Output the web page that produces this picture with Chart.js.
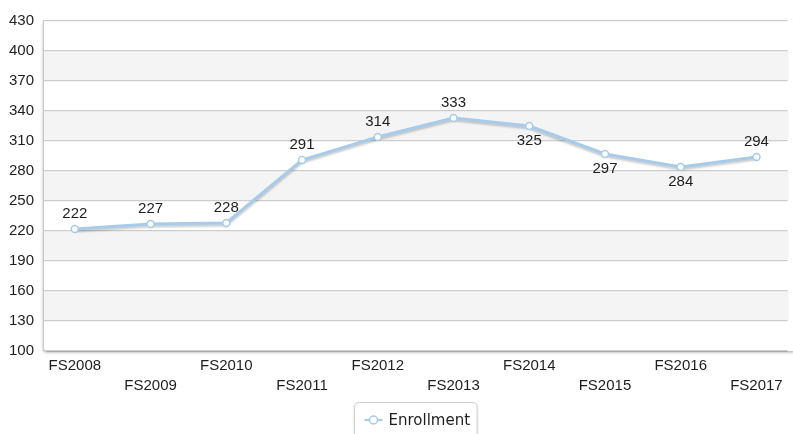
<!DOCTYPE html>
<html>
<head>
<meta charset="utf-8">
<script src="https://cdn.jsdelivr.net/npm/chart.js@4/dist/chart.umd.min.js"></script>
<style>
  html, body { margin: 0; padding: 0; background: #fff; }
  canvas { display: block; }
</style>
</head>
<body>
<canvas id="chart" width="793" height="434"></canvas>
<script>
// Enrollment by fiscal year
const categories = ['FS2008', 'FS2009', 'FS2010', 'FS2011', 'FS2012',
                    'FS2013', 'FS2014', 'FS2015', 'FS2016', 'FS2017'];
const enrollment = [222, 227, 228, 291, 314, 333, 325, 297, 284, 294];
const seriesName = 'Enrollment';

// value axis
const yMin = 100;
const yMax = 430;
const yStep = 30;

const LINE_BLUE = '#a7cbea';
const TEXT = '#1e1e1e';
const FONT = "'Liberation Sans', Arial, Helvetica, sans-serif";

function roundedBox(ctx, x, y, w, h, r) {
  ctx.beginPath();
  ctx.moveTo(x + r, y);
  ctx.lineTo(x + w - r, y);
  ctx.quadraticCurveTo(x + w, y, x + w, y + r);
  ctx.lineTo(x + w, y + h - r);
  ctx.quadraticCurveTo(x + w, y + h, x + w - r, y + h);
  ctx.lineTo(x + r, y + h);
  ctx.quadraticCurveTo(x, y + h, x, y + h - r);
  ctx.lineTo(x, y + r);
  ctx.quadraticCurveTo(x, y, x + r, y);
  ctx.closePath();
}

// Plot background: white panel with alternating bands, frame and shadow
const plotPanel = {
  id: 'plotPanel',
  beforeDraw(chart) {
    const { ctx, chartArea: a, scales: { y } } = chart;
    ctx.save();
    ctx.fillStyle = '#fff';
    ctx.fillRect(0, 0, chart.width, chart.height);

    ctx.shadowColor = 'rgba(0,0,0,0.30)';
    ctx.shadowBlur = 3;
    ctx.shadowOffsetY = 1.5;
    roundedBox(ctx, a.left, a.top - 1, a.right - a.left + 8, a.bottom - a.top + 1, 4);
    ctx.fillStyle = '#fff';
    ctx.fill();
    ctx.shadowColor = 'transparent';

    const ticks = y.ticks;
    ctx.fillStyle = '#f4f4f4';
    for (let k = 1; k < ticks.length - 1; k += 2) {
      const y0 = y.getPixelForValue(ticks[k].value);
      const y1 = y.getPixelForValue(ticks[k + 1].value);
      ctx.fillRect(a.left + 1, y1, a.right - a.left, y0 - y1);
    }
    ctx.restore();
  },
  beforeDatasetsDraw(chart) {
    const { ctx, chartArea: a } = chart;
    ctx.save();
    ctx.lineWidth = 1;
    ctx.beginPath();
    ctx.moveTo(a.left + 0.5, a.top);
    ctx.lineTo(a.left + 0.5, a.bottom - 4);
    ctx.quadraticCurveTo(a.left + 0.5, a.bottom + 0.5, a.left + 4, a.bottom + 0.5);
    ctx.strokeStyle = '#c8c8c8';
    ctx.stroke();
    ctx.beginPath();
    ctx.moveTo(a.left + 4, a.bottom + 0.5);
    ctx.lineTo(a.right, a.bottom + 0.5);
    ctx.strokeStyle = '#a8a8a8';
    ctx.stroke();
    ctx.restore();
  },
  // soft drop shadow under the line itself (not under the point markers)
  beforeDatasetDraw(chart, args) {
    const line = args.meta.dataset;
    if (line && !line.__shadowed) {
      const draw = line.draw.bind(line);
      line.draw = (ctx, area) => {
        ctx.save();
        ctx.shadowColor = 'rgba(0,0,0,0.2)';
        ctx.shadowBlur = 2;
        ctx.shadowOffsetY = 2;
        draw(ctx, area);
        ctx.restore();
      };
      line.__shadowed = true;
    }
  }
};

// Value labels next to each point: below when the line comes down into it
const valueLabels = {
  id: 'valueLabels',
  afterDatasetsDraw(chart) {
    const { ctx } = chart;
    const ds = chart.data.datasets[0];
    const meta = chart.getDatasetMeta(0);
    ctx.save();
    ctx.font = '15px ' + FONT;
    ctx.fillStyle = TEXT;
    ctx.textAlign = 'center';
    ctx.textBaseline = 'middle';
    meta.data.forEach((pt, i) => {
      const v = ds.data[i].y;
      const below = i > 0 && ds.data[i - 1].y > v;
      ctx.fillText(String(v), pt.x, pt.y + (below ? 15 : -15));
    });
    ctx.restore();
  }
};

// Boxed legend centred under the plot
const boxedLegend = {
  id: 'boxedLegend',
  afterDraw(chart) {
    const { ctx, chartArea: a } = chart;
    const ds = chart.data.datasets[0];
    ctx.save();
    ctx.font = "15px 'DejaVu Sans', Verdana, sans-serif";
    const tw = ctx.measureText(ds.label).width;
    const markerW = 18, gap = 6, padL = 10, padR = 7;
    const boxW = padL + markerW + gap + tw + padR;
    const cx = (a.left + a.right) / 2;
    const bx = Math.round(cx - boxW / 2) + 0.5;
    const by = 402.5;
    const cy = 420;

    ctx.shadowColor = 'rgba(0,0,0,0.18)';
    ctx.shadowBlur = 3;
    ctx.shadowOffsetY = 1;
    roundedBox(ctx, bx, by, boxW, 40, 5);
    ctx.fillStyle = '#fff';
    ctx.fill();
    ctx.shadowColor = 'transparent';
    ctx.strokeStyle = '#d0d0d0';
    ctx.lineWidth = 1;
    ctx.stroke();

    const mx = bx + padL;
    ctx.strokeStyle = ds.borderColor;
    ctx.lineWidth = 2;
    ctx.beginPath();
    ctx.moveTo(mx, cy);
    ctx.lineTo(mx + markerW, cy);
    ctx.stroke();
    ctx.beginPath();
    ctx.arc(mx + markerW / 2, cy, 4, 0, Math.PI * 2);
    ctx.fillStyle = '#fff';
    ctx.fill();
    ctx.lineWidth = 1.5;
    ctx.stroke();

    ctx.fillStyle = TEXT;
    ctx.textAlign = 'left';
    ctx.textBaseline = 'middle';
    ctx.fillText(ds.label, mx + markerW + gap, cy + 1);
    ctx.restore();
  }
};

new Chart(document.getElementById('chart'), {
  type: 'line',
  data: {
    datasets: [{
      label: seriesName,
      data: enrollment.map((v, i) => ({ x: i, y: v })),
      borderColor: LINE_BLUE,
      borderWidth: 3,
      tension: 0,
      pointRadius: 3.5,
      pointBorderWidth: 1.5,
      pointBackgroundColor: '#ffffff',
      pointBorderColor: LINE_BLUE,
      fill: false
    }]
  },
  options: {
    responsive: false,
    animation: false,
    layout: { padding: { top: 21, right: 0, bottom: 33, left: 0 } },
    plugins: {
      legend: { display: false },
      tooltip: { enabled: false }
    },
    scales: {
      x: {
        type: 'linear',
        min: -0.42,
        max: 9.41,
        grid: { display: false, drawTicks: false },
        border: { display: false },
        ticks: {
          stepSize: 1,
          includeBounds: false,
          autoSkip: false,
          maxRotation: 0,
          padding: 5,
          color: TEXT,
          font: { family: FONT, size: 15, lineHeight: 1.34 },
          callback(value) {
            if (!Number.isInteger(value) || value < 0 || value >= categories.length) return '';
            const idx = Math.abs(value);
            return idx % 2 ? ['', categories[idx]] : categories[idx];
          }
        },
        afterFit(scale) {
          scale.height = 50;
          scale.paddingLeft = 0;
          scale.paddingRight = 0;
        }
      },
      y: {
        min: yMin,
        max: yMax,
        grid: { color: '#cdcdcd', lineWidth: 1.3, drawTicks: false },
        border: { display: false },
        ticks: {
          stepSize: yStep,
          padding: 9,
          color: TEXT,
          font: { family: FONT, size: 15 }
        },
        afterFit(scale) {
          scale.width = 43;
        }
      }
    }
  },
  plugins: [plotPanel, valueLabels, boxedLegend]
});
</script>
</body>
</html>
